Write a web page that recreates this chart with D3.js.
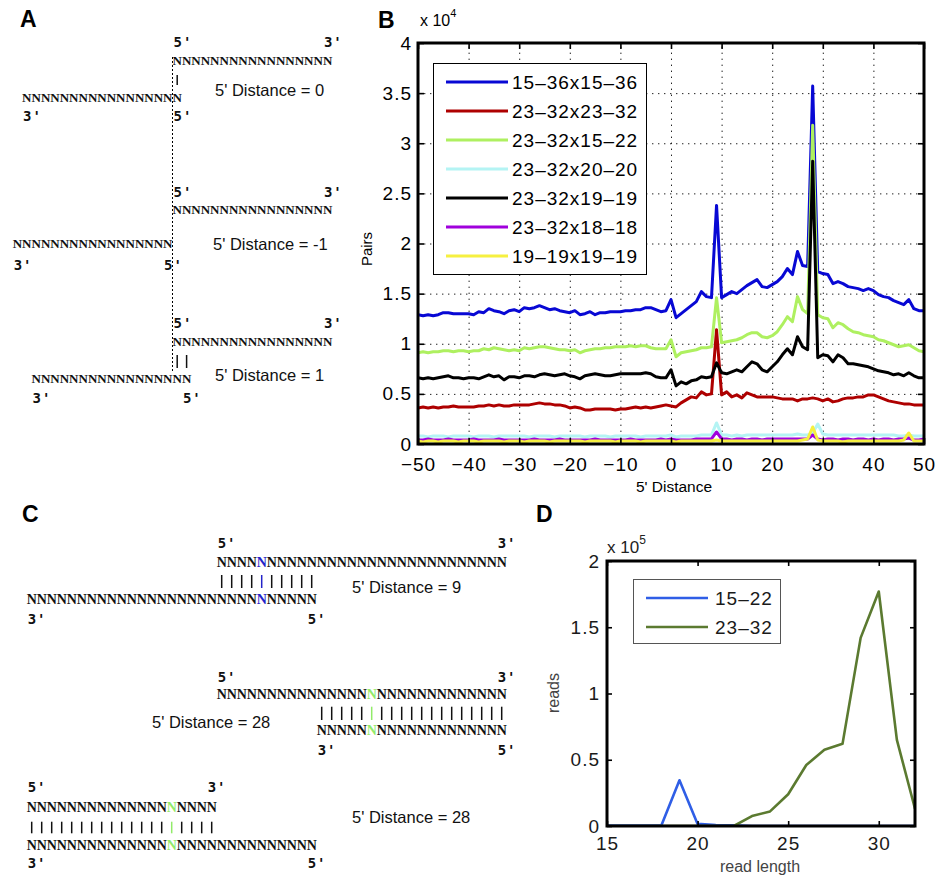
<!DOCTYPE html>
<html lang="en">
<head>
<meta charset="UTF-8">
<title>5' distance of read pairs</title>
<script src="https://d3js.org/d3.v7.min.js"></script>
<style>
  body { margin: 0; background: #fff; }
  svg text { font-family: "Liberation Sans", Arial, sans-serif; }
  .nt { font-family: "Liberation Serif", "Times New Roman", serif; font-weight: bold; }
  .end { font-family: "DejaVu Sans Mono", monospace; font-weight: bold; }
</style>
</head>
<body>
<svg id="fig" width="940" height="886"></svg>
<script>
// ---- Panel B: pairs (x 10^4) by 5' distance ----
var distances = d3.range(-50, 51);
var pairs15_36x15_36 = [
  1.29,1.28,1.29,1.28,1.29,1.31,1.31,1.30,1.30,1.30,
  1.30,1.29,1.32,1.31,1.35,1.33,1.32,1.30,1.33,1.34,
  1.32,1.36,1.35,1.36,1.38,1.36,1.34,1.35,1.33,1.32,
  1.31,1.33,1.29,1.30,1.32,1.29,1.31,1.31,1.32,1.32,
  1.32,1.33,1.33,1.34,1.34,1.36,1.36,1.34,1.32,1.33,
  1.44,1.26,1.30,1.34,1.38,1.42,1.52,1.47,1.46,2.38,
  1.46,1.49,1.52,1.50,1.54,1.58,1.61,1.64,1.57,1.56,
  1.59,1.62,1.67,1.75,1.69,1.92,1.78,1.77,3.57,1.72,
  1.70,1.69,1.60,1.62,1.60,1.57,1.56,1.55,1.53,1.55,
  1.53,1.49,1.47,1.46,1.43,1.41,1.39,1.44,1.35,1.33,1.33];
var pairs23_32x23_32 = [
  0.36,0.37,0.36,0.37,0.36,0.37,0.37,0.38,0.37,0.37,
  0.37,0.37,0.38,0.38,0.39,0.38,0.39,0.38,0.38,0.39,
  0.39,0.39,0.39,0.40,0.41,0.40,0.40,0.39,0.39,0.38,
  0.36,0.37,0.36,0.34,0.34,0.35,0.35,0.35,0.35,0.34,
  0.35,0.35,0.36,0.37,0.36,0.37,0.36,0.37,0.38,0.39,
  0.38,0.37,0.41,0.44,0.47,0.46,0.52,0.49,0.50,1.14,
  0.49,0.52,0.47,0.49,0.46,0.51,0.49,0.47,0.47,0.47,
  0.47,0.46,0.45,0.45,0.45,0.43,0.45,0.45,0.46,0.45,
  0.43,0.45,0.42,0.43,0.45,0.46,0.46,0.47,0.47,0.49,
  0.49,0.47,0.45,0.43,0.42,0.41,0.40,0.40,0.39,0.39,0.39];
var pairs23_32x15_22 = [
  0.91,0.92,0.91,0.92,0.92,0.93,0.93,0.92,0.93,0.93,
  0.92,0.93,0.93,0.95,0.94,0.96,0.95,0.94,0.93,0.94,
  0.93,0.96,0.95,0.96,0.97,0.97,0.96,0.95,0.94,0.94,
  0.93,0.94,0.91,0.93,0.94,0.95,0.95,0.96,0.96,0.97,
  0.97,0.97,0.98,0.97,0.98,0.98,0.96,0.95,0.95,0.95,
  1.04,0.87,0.91,0.92,0.93,0.94,0.96,0.96,0.97,1.46,
  1.01,1.02,1.03,1.04,1.06,1.09,1.11,1.11,1.07,1.06,
  1.08,1.12,1.19,1.27,1.22,1.47,1.34,1.30,3.18,1.29,
  1.26,1.25,1.16,1.21,1.19,1.15,1.12,1.11,1.09,1.08,
  1.07,1.04,1.03,1.01,0.99,0.97,0.98,0.99,0.96,0.93,0.92];
var pairs23_32x20_20 = [
  0.08,0.08,0.07,0.08,0.08,0.08,0.07,0.08,0.08,0.08,
  0.08,0.07,0.08,0.08,0.08,0.07,0.08,0.08,0.08,0.08,
  0.08,0.08,0.07,0.08,0.08,0.08,0.08,0.07,0.08,0.08,
  0.08,0.08,0.08,0.07,0.08,0.08,0.08,0.08,0.07,0.08,
  0.08,0.08,0.08,0.08,0.07,0.08,0.08,0.08,0.08,0.08,
  0.09,0.07,0.08,0.08,0.08,0.08,0.09,0.09,0.09,0.21,
  0.09,0.09,0.08,0.09,0.08,0.09,0.09,0.09,0.09,0.09,
  0.09,0.09,0.09,0.09,0.09,0.10,0.09,0.09,0.11,0.20,
  0.10,0.09,0.09,0.09,0.09,0.09,0.09,0.09,0.09,0.09,
  0.09,0.09,0.09,0.09,0.09,0.08,0.08,0.09,0.08,0.08,0.08];
var pairs23_32x19_19 = [
  0.66,0.65,0.66,0.65,0.66,0.67,0.68,0.66,0.66,0.65,
  0.66,0.66,0.65,0.67,0.69,0.67,0.68,0.64,0.67,0.67,
  0.66,0.68,0.68,0.67,0.69,0.70,0.69,0.68,0.69,0.70,
  0.68,0.67,0.65,0.68,0.69,0.70,0.69,0.68,0.68,0.69,
  0.70,0.70,0.70,0.70,0.70,0.71,0.70,0.67,0.66,0.66,
  0.74,0.58,0.62,0.60,0.63,0.64,0.67,0.66,0.67,0.81,
  0.71,0.70,0.72,0.74,0.72,0.77,0.82,0.80,0.74,0.72,
  0.77,0.82,0.89,0.95,0.89,1.07,0.97,0.94,2.82,0.86,
  0.89,0.88,0.82,0.89,0.86,0.80,0.80,0.79,0.78,0.77,
  0.75,0.73,0.72,0.71,0.69,0.70,0.68,0.71,0.68,0.66,0.66];
var pairs23_32x18_18 = [
  0.04,0.04,0.05,0.04,0.04,0.04,0.05,0.04,0.04,0.04,
  0.04,0.05,0.04,0.04,0.04,0.04,0.05,0.04,0.04,0.04,
  0.04,0.04,0.04,0.05,0.04,0.04,0.04,0.04,0.05,0.04,
  0.04,0.04,0.04,0.04,0.04,0.05,0.04,0.04,0.04,0.04,
  0.04,0.04,0.05,0.04,0.04,0.04,0.04,0.04,0.05,0.04,
  0.05,0.04,0.04,0.04,0.04,0.05,0.05,0.05,0.05,0.12,
  0.05,0.05,0.04,0.05,0.05,0.04,0.05,0.05,0.04,0.05,
  0.05,0.05,0.05,0.05,0.05,0.05,0.05,0.05,0.09,0.05,
  0.04,0.05,0.05,0.04,0.05,0.05,0.04,0.05,0.05,0.04,
  0.05,0.04,0.05,0.05,0.04,0.05,0.05,0.06,0.04,0.04,0.05];
var pairs19_19x19_19 = [
  0.03,0.02,0.03,0.03,0.02,0.03,0.03,0.03,0.02,0.03,
  0.03,0.03,0.02,0.03,0.03,0.03,0.03,0.02,0.03,0.03,
  0.03,0.02,0.03,0.03,0.03,0.03,0.02,0.03,0.03,0.03,
  0.03,0.03,0.03,0.02,0.03,0.03,0.03,0.03,0.03,0.02,
  0.03,0.03,0.03,0.03,0.02,0.03,0.03,0.03,0.03,0.03,
  0.03,0.02,0.03,0.03,0.03,0.03,0.03,0.03,0.03,0.04,
  0.03,0.03,0.03,0.03,0.03,0.03,0.03,0.03,0.03,0.03,
  0.03,0.03,0.03,0.03,0.03,0.03,0.04,0.05,0.17,0.04,
  0.03,0.03,0.03,0.03,0.02,0.03,0.03,0.03,0.03,0.03,
  0.03,0.03,0.03,0.03,0.03,0.03,0.04,0.11,0.03,0.03,0.03];
var seriesNamesB = ["15\u201336x15\u201336", "23\u201332x23\u201332", "23\u201332x15\u201322",
  "23\u201332x20\u201320", "23\u201332x19\u201319", "23\u201332x18\u201318", "19\u201319x19\u201319"];
var seriesColorsB = ["#0808d4", "#ae0000", "#aef060", "#b4f4f4", "#000000", "#a000dc", "#f6f040"];
var xTicksB = d3.range(-50, 51, 10);
var yTicksB = d3.range(0, 4.01, 0.5);

// ---- Panel D: reads by read length (x 10^5) ----
var readLength = [15,16,17,18,19,20,21,22,23,24,25,26,27,28,29,30,31,32];
var reads15_22 = [0.003,0.003,0.003,0.004,0.345,0.016,0.008,0.006,0,0,0,0,0,0,0,0,0,0];
var reads23_32 = [0,0,0,0,0,0,0,0,0.075,0.11,0.24,0.46,0.575,0.62,1.42,1.77,0.65,0.13];
var seriesNamesD = ["15\u201322", "23\u201332"];
var seriesColorsD = ["#2f5ee6", "#5b7a30"];
var xTicksD = [15, 20, 25, 30];
var yTicksD = [0, 0.5, 1, 1.5, 2];

var svg = d3.select("#fig");
svg.append("rect").attr("width", 940).attr("height", 886).attr("fill", "#fff");

// panel letters
[["A", 20, 27], ["B", 378, 28], ["C", 22, 522], ["D", 536, 522]].forEach(function(p) {
  svg.append("text").attr("x", p[1]).attr("y", p[2]).text(p[0])
    .style("font-size", "23px").style("font-weight", "bold");
});

// ===================== Panel B =====================
var xB = d3.scaleLinear().domain([-50, 50]).range([418, 924]);
var yB = d3.scaleLinear().domain([0, 4]).range([444, 43]);
var gB = svg.append("g");

svg.append("clipPath").attr("id", "clipB").append("rect")
  .attr("x", 418).attr("y", 43).attr("width", 506).attr("height", 401);

// dotted grid
gB.append("g").attr("transform", "translate(0,444)")
  .call(d3.axisBottom(xB).tickValues(xTicksB.slice(1, -1)).tickSize(-401).tickFormat(""))
  .call(function(g) { g.select(".domain").remove(); })
  .selectAll("line").attr("stroke", "#222").attr("stroke-dasharray", "1.4,4.6");
gB.append("g").attr("transform", "translate(418,0)")
  .call(d3.axisLeft(yB).tickValues(yTicksB.slice(1, -1)).tickSize(-506).tickFormat(""))
  .call(function(g) { g.select(".domain").remove(); })
  .selectAll("line").attr("stroke", "#222").attr("stroke-dasharray", "1.4,4.6");

var seriesB = [pairs15_36x15_36, pairs23_32x23_32, pairs23_32x15_22, pairs23_32x20_20,
  pairs23_32x19_19, pairs23_32x18_18, pairs19_19x19_19];
var lineB = d3.line().x(function(d, i) { return xB(distances[i]); }).y(function(d) { return yB(d); });
gB.append("g").attr("clip-path", "url(#clipB)")
  .selectAll("path").data(seriesB).join("path")
  .attr("d", lineB).attr("fill", "none")
  .attr("stroke", function(d, i) { return seriesColorsB[i]; })
  .attr("stroke-width", 3).attr("stroke-linejoin", "round");

// axes with inward ticks
function styleAxis(g, size) {
  g.select(".domain").remove();
  g.selectAll(".tick line").attr("stroke", "#000").attr("stroke-width", 1.6);
  g.selectAll(".tick text").attr("fill", "#000")
    .style("font-size", size).style("letter-spacing", "1px")
    .style("font-family", "'Liberation Sans', Arial, sans-serif");
}
gB.append("g").attr("transform", "translate(0,444)")
  .call(d3.axisBottom(xB).tickValues(xTicksB).tickSize(-6).tickPadding(14))
  .call(styleAxis, "19px");
gB.append("g").attr("transform", "translate(0,43)")
  .call(d3.axisTop(xB).tickValues(xTicksB).tickSize(-6).tickFormat(""))
  .call(styleAxis, "19px");
gB.append("g").attr("transform", "translate(418,0)")
  .call(d3.axisLeft(yB).tickValues(yTicksB).tickSize(-6).tickPadding(6).tickFormat(d3.format("~g")))
  .call(styleAxis, "19px");
gB.append("g").attr("transform", "translate(924,0)")
  .call(d3.axisRight(yB).tickValues(yTicksB).tickSize(-6).tickFormat(""))
  .call(styleAxis, "19px");
gB.append("rect").attr("x", 418).attr("y", 43).attr("width", 506).attr("height", 401)
  .attr("fill", "none").attr("stroke", "#000").attr("stroke-width", 3);

// exponent and axis labels
var expB = gB.append("text").attr("x", 420).attr("y", 26).style("font-size", "16px");
expB.append("tspan").text("x 10");
expB.append("tspan").attr("dy", -9).style("font-size", "11px").text("4");
gB.append("text").attr("transform", "translate(372,249) rotate(-90)")
  .attr("text-anchor", "middle").style("font-size", "15px").text("Pairs");
gB.append("text").attr("x", 674).attr("y", 492)
  .attr("text-anchor", "middle").style("font-size", "15.5px").text("5' Distance");

// legend
var legB = gB.append("g");
legB.append("rect").attr("x", 433.5).attr("y", 63.5).attr("width", 213).attr("height", 211)
  .attr("fill", "#fff").attr("stroke", "#000").attr("stroke-width", 1);
var legRowsB = legB.selectAll("g.row").data(seriesNamesB).join("g").attr("class", "row")
  .attr("transform", function(d, i) { return "translate(0," + (82 + i * 29) + ")"; });
legRowsB.append("line").attr("x1", 446).attr("x2", 508)
  .attr("stroke", function(d, i) { return seriesColorsB[i]; }).attr("stroke-width", 3);
legRowsB.append("text").attr("x", 512).attr("dy", "0.36em")
  .style("font-size", "19px").style("letter-spacing", "1px").text(function(d) { return d; });

// ===================== Panel D =====================
var xD = d3.scaleLinear().domain([15, 32]).range([607, 915]);
var yD = d3.scaleLinear().domain([0, 2]).range([826, 561]);
var gD = svg.append("g");
svg.append("clipPath").attr("id", "clipD").append("rect")
  .attr("x", 607).attr("y", 561).attr("width", 308).attr("height", 265);

var seriesD = [reads15_22, reads23_32];
var lineD = d3.line().x(function(d, i) { return xD(readLength[i]); }).y(function(d) { return yD(d); });
gD.append("g").attr("clip-path", "url(#clipD)")
  .selectAll("path").data(seriesD).join("path")
  .attr("d", lineD).attr("fill", "none")
  .attr("stroke", function(d, i) { return seriesColorsD[i]; })
  .attr("stroke-width", 2.6).attr("stroke-linejoin", "round");

gD.append("g").attr("transform", "translate(0,826)")
  .call(d3.axisBottom(xD).tickValues(xTicksD).tickSize(-5).tickPadding(11))
  .call(styleAxis, "19px");
gD.append("g").attr("transform", "translate(0,561)")
  .call(d3.axisTop(xD).tickValues(xTicksD).tickSize(-5).tickFormat(""))
  .call(styleAxis, "19px");
gD.append("g").attr("transform", "translate(607,0)")
  .call(d3.axisLeft(yD).tickValues(yTicksD).tickSize(-5).tickPadding(7).tickFormat(d3.format("~g")))
  .call(styleAxis, "19px");
gD.append("g").attr("transform", "translate(915,0)")
  .call(d3.axisRight(yD).tickValues(yTicksD).tickSize(-5).tickFormat(""))
  .call(styleAxis, "19px");
gD.selectAll(".tick text").attr("fill", "#1a1a1a");
gD.append("rect").attr("x", 607).attr("y", 561).attr("width", 308).attr("height", 265)
  .attr("fill", "none").attr("stroke", "#000").attr("stroke-width", 3);

var expD = gD.append("text").attr("x", 607).attr("y", 553).style("font-size", "17px").attr("fill", "#222");
expD.append("tspan").text("x 10");
expD.append("tspan").attr("dy", -9).style("font-size", "12px").text("5");
gD.append("text").attr("transform", "translate(559,693) rotate(-90)")
  .attr("text-anchor", "middle").style("font-size", "16px").attr("fill", "#444").text("reads");
gD.append("text").attr("x", 760).attr("y", 872)
  .attr("text-anchor", "middle").style("font-size", "16px").attr("fill", "#444").text("read length");

var legD = gD.append("g");
legD.append("rect").attr("x", 633.5).attr("y", 579.5).attr("width", 147).attr("height", 64)
  .attr("fill", "#fff").attr("stroke", "#555").attr("stroke-width", 1);
var legRowsD = legD.selectAll("g.row").data(seriesNamesD).join("g").attr("class", "row")
  .attr("transform", function(d, i) { return "translate(0," + (598 + i * 29) + ")"; });
legRowsD.append("line").attr("x1", 646).attr("x2", 708)
  .attr("stroke", function(d, i) { return seriesColorsD[i]; }).attr("stroke-width", 2.6);
legRowsD.append("text").attr("x", 715).attr("dy", "0.36em").attr("fill", "#1a1a1a")
  .style("font-size", "19px").style("letter-spacing", "1px").text(function(d) { return d; });

// ===================== Panels A and C: duplex diagrams =====================
// strands are laid out on a character grid: col -> x0 + col * cw
var gridA = {x0: 12.7, cw: 9.4, fs: 13};
var gridC = {x0: 26.7, cw: 10, fs: 14};
var markBlue = "#2323c8", markGreen = "#92ea6a";

var duplexes = [
  {grid: gridA, lab: 47, top: 65, bot: 101.7, labB: 120.7, bar: [75, 85],
   t: {col: 17, n: 17}, b: {col: 1, n: 17}, bars: [17], text: [215, 96, "5' Distance = 0"]},
  {grid: gridA, lab: 197, top: 214, bot: 248.3, labB: 270, bar: null,
   t: {col: 17, n: 17}, b: {col: 0, n: 17}, bars: [], text: [213, 250, "5' Distance = -1"]},
  {grid: gridA, lab: 328.3, top: 345.7, bot: 383.3, labB: 402.7, bar: [355, 368],
   t: {col: 17, n: 17}, b: {col: 2, n: 17}, bars: [17, 18], text: [215, 381, "5' Distance = 1"]},
  {grid: gridC, lab: 548.3, top: 566.7, bot: 604, labB: 624, bar: [575, 588],
   t: {col: 19, n: 29}, b: {col: 0, n: 29}, bars: d3.range(19, 29), mark: 23, color: markBlue,
   text: [352, 593, "5' Distance = 9"]},
  {grid: gridC, lab: 682.3, top: 699, bot: 735, labB: 755, bar: [706.7, 720],
   t: {col: 19, n: 29}, b: {col: 29, n: 19}, bars: d3.range(29, 48), mark: 34, color: markGreen,
   text: [152, 727.7, "5' Distance = 28"]},
  {grid: gridC, lab: 792, top: 811.7, bot: 850, labB: 868, bar: [821.7, 833.3],
   t: {col: 0, n: 19}, b: {col: 0, n: 29}, bars: d3.range(0, 19), mark: 14, color: markGreen,
   text: [352, 822.7, "5' Distance = 28"]}
];

var gDia = svg.append("g");

// dashed reference line through panel A
gDia.append("line").attr("x1", gridA.x0 + 17 * gridA.cw).attr("x2", gridA.x0 + 17 * gridA.cw)
  .attr("y1", 57).attr("y2", 372).attr("stroke", "#000").attr("stroke-width", 1)
  .attr("stroke-dasharray", "2,2");

duplexes.forEach(function(dx) {
  var G = dx.grid;
  var colX = function(c) { return G.x0 + c * G.cw; };
  var g = gDia.append("g");

  function strand(s, base) {
    g.append("g").selectAll("text").data(d3.range(s.col, s.col + s.n)).join("text")
      .attr("class", "nt").attr("x", colX).attr("y", base)
      .style("font-size", G.fs + "px")
      .attr("fill", function(c) { return c === dx.mark ? dx.color : "#111"; })
      .text("N");
  }
  strand(dx.t, dx.top);
  strand(dx.b, dx.bot);

  if (dx.bar) {
    g.append("g").selectAll("line").data(dx.bars).join("line")
      .attr("x1", function(c) { return colX(c + 0.5); })
      .attr("x2", function(c) { return colX(c + 0.5); })
      .attr("y1", dx.bar[0]).attr("y2", dx.bar[1])
      .attr("stroke", function(c) { return c === dx.mark ? dx.color : "#111"; })
      .attr("stroke-width", 1.5);
  }

  var ends = [
    ["5'", dx.t.col, dx.lab], ["3'", dx.t.col + dx.t.n - 1, dx.lab],
    ["3'", dx.b.col, dx.labB], ["5'", dx.b.col + dx.b.n - 1, dx.labB]
  ];
  g.append("g").selectAll("text").data(ends).join("text")
    .attr("class", "end").attr("x", function(e) { return colX(e[1]) + 1; }).attr("y", function(e) { return e[2]; })
    .style("font-size", "14px").style("letter-spacing", "1px").attr("fill", "#111")
    .text(function(e) { return e[0]; });

  g.append("text").attr("x", dx.text[0]).attr("y", dx.text[1])
    .style("font-size", "16.5px").attr("fill", "#111").text(dx.text[2]);
});
</script>
</body>
</html>
